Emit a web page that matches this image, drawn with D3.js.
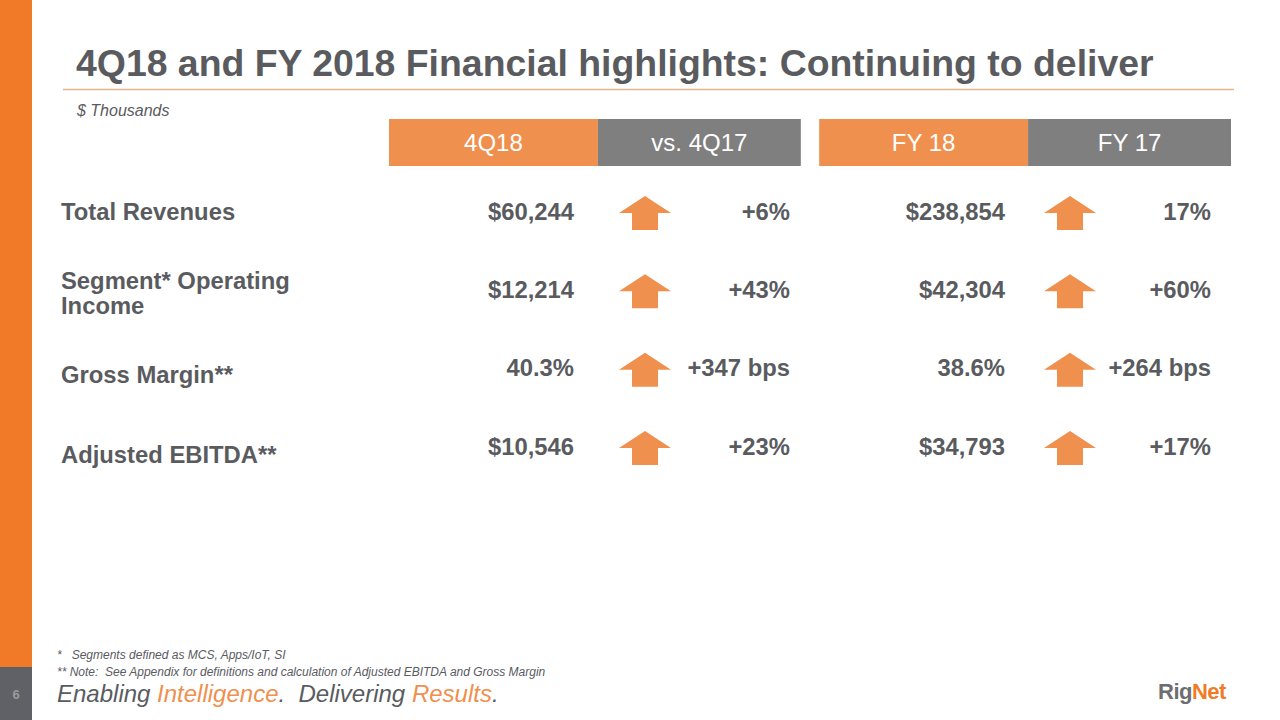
<!DOCTYPE html>
<html>
<head>
<meta charset="utf-8">
<script src="https://cdn.jsdelivr.net/npm/d3@7"></script>
<style>
  html, body { margin: 0; padding: 0; background: #ffffff; }
  svg { display: block; font-family: "Liberation Sans", Arial, sans-serif; }
</style>
</head>
<body>
<svg id="chart" width="1280" height="720"></svg>
<script>
// ---------- data ----------
const metrics = ["Total Revenues", "Segment* Operating\nIncome", "Gross Margin**", "Adjusted EBITDA**"];
const headers = ["4Q18", "vs. 4Q17", "FY 18", "FY 17"];
const q4Values = ["$60,244", "$12,214", "40.3%", "$10,546"];
const q4Changes = ["+6%", "+43%", "+347 bps", "+23%"];
const fyValues = ["$238,854", "$42,304", "38.6%", "$34,793"];
const fyChanges = ["17%", "+60%", "+264 bps", "+17%"];
const directions = ["up", "up", "up", "up"];
const footnotes = ["*   Segments defined as MCS, Apps/IoT, SI",
                   "** Note:  See Appendix for definitions and calculation of Adjusted EBITDA and Gross Margin"];

// ---------- style ----------
const ORANGE = "#F07A28";
const ORANGE_SOFT = "#F0904E";
const GRAY_TXT = "#5a5b5f";
const GRAY_HDR = "#7f7f7f";
const BODY_SIZE = 23.8;

const svg = d3.select("#chart");

// left side bar
svg.append("rect").attr("x", 0).attr("y", 0).attr("width", 32).attr("height", 667).attr("fill", ORANGE);
svg.append("rect").attr("x", 0).attr("y", 667).attr("width", 32).attr("height", 53).attr("fill", "#606166");
svg.append("text").attr("x", 16).attr("y", 699).attr("text-anchor", "middle")
  .attr("font-size", 13).attr("font-weight", "bold").attr("fill", "#9a9a9e").text("6");

// title
svg.append("text").attr("x", 76).attr("y", 76)
  .attr("font-size", 37.4).attr("font-weight", "bold").attr("fill", GRAY_TXT)
  .text("4Q18 and FY 2018 Financial highlights: Continuing to deliver");
svg.append("line").attr("x1", 63).attr("x2", 1234).attr("y1", 89.5).attr("y2", 89.5)
  .attr("stroke", "#e8b48a").attr("stroke-width", 1.5);
svg.append("text").attr("x", 77).attr("y", 116)
  .attr("font-size", 16).attr("font-style", "italic").attr("fill", GRAY_TXT)
  .text("$ Thousands");

// column scales: two header groups, each split into two bands
const groupScale = d3.scaleBand().domain([0, 1]).range([389, 1231]).paddingInner(0.0427);
const band = d3.scaleBand().domain([0, 1]).paddingInner(0).paddingOuter(0);

headers.forEach((h, i) => {
  const g = Math.floor(i / 2), k = i % 2;
  band.range([groupScale(g), groupScale(g) + groupScale.bandwidth()]);
  const x = band(k) + (k === 0 ? 0 : 3), w = band.bandwidth() + (k === 0 ? 3 : -3);
  svg.append("rect").attr("x", x).attr("y", 119).attr("width", w).attr("height", 47)
    .attr("fill", k === 0 ? ORANGE_SOFT : GRAY_HDR);
  svg.append("text").attr("x", x + w / 2).attr("y", 151).attr("text-anchor", "middle")
    .attr("font-size", 24).attr("fill", "#ffffff").text(h);
});

// row scale
const rowY = d3.scalePoint().domain(d3.range(metrics.length)).range([211, 446]);
const labelDy = [0, 4, 7, 8];

// row labels
metrics.forEach((m, i) => {
  const lines = m.split("\n");
  const t = svg.append("text").attr("x", 61).attr("font-size", BODY_SIZE).attr("font-weight", "bold").attr("fill", GRAY_TXT);
  const cy = rowY(i) + labelDy[i];
  const lh = 25;
  lines.forEach((ln, j) => {
    t.append("tspan").attr("x", 61)
      .attr("y", cy + 8.5 + (j - (lines.length - 1) / 2) * lh)
      .text(ln);
  });
});

// values
const colsRight = [574, 790, 1005, 1211];
const arrowX = [645, 1070];
function valueText(x, y, s) {
  svg.append("text").attr("x", x).attr("y", y + 8.5).attr("text-anchor", "end")
    .attr("font-size", BODY_SIZE).attr("font-weight", "bold").attr("fill", GRAY_TXT).text(s);
}
function arrow(cx, cy, dir) {
  const hw = 26, sw = 13, top = -15, mid = 2, bot = 19;
  const pts = [[0, top], [hw, mid], [sw, mid], [sw, bot], [-sw, bot], [-sw, mid], [-hw, mid]];
  const s = dir === "up" ? 1 : -1;
  svg.append("path")
    .attr("d", d3.line()(pts.map(p => [cx + p[0], cy + s * p[1]])) + "Z")
    .attr("fill", ORANGE_SOFT);
}
[[q4Values, q4Changes], [fyValues, fyChanges]].forEach(([vals, chg], g) => {
  vals.forEach((v, i) => {
    const y = rowY(i);
    valueText(colsRight[g * 2], y, v);
    valueText(colsRight[g * 2 + 1], y, chg[i]);
    arrow(arrowX[g], y, directions[i]);
  });
});

// footnotes
footnotes.forEach((f, i) => {
  svg.append("text").attr("x", 57).attr("y", 659 + i * 16.5)
    .attr("font-size", 12).attr("font-style", "italic").attr("fill", GRAY_TXT)
    .style("white-space", "pre").text(f);
});

// tagline
const tag = svg.append("text").attr("x", 57).attr("y", 702)
  .attr("font-size", 24).attr("font-style", "italic").attr("fill", GRAY_TXT)
  .style("white-space", "pre");
[["Enabling ", GRAY_TXT], ["Intelligence", ORANGE_SOFT], [".  Delivering ", GRAY_TXT], ["Results", ORANGE_SOFT], [".", GRAY_TXT]]
  .forEach(([s, c]) => tag.append("tspan").attr("fill", c).text(s));

// logo
const logo = svg.append("text").attr("x", 1158).attr("y", 699)
  .attr("font-size", 22).attr("font-weight", "bold").attr("letter-spacing", -0.5);
logo.append("tspan").attr("fill", "#6d6e72").text("Rig");
logo.append("tspan").attr("fill", ORANGE).text("Net");
</script>
</body>
</html>
